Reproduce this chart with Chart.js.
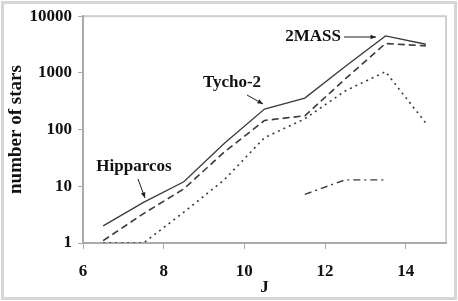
<!DOCTYPE html>
<html><head><meta charset="utf-8">
<script src="https://cdn.jsdelivr.net/npm/chart.js@4"></script>
<style>html,body{margin:0;padding:0;background:#fff}#w{width:458px;height:301px;position:relative}</style>
</head><body><div id="w"><canvas id="c" width="458" height="301"></canvas></div>
<script>
const jValues = [6.5, 7.5, 8.5, 9.5, 10.5, 11.5, 12.5, 13.5, 14.5];
const solidSeries = [2, 5.2, 12, 57, 230, 360, 1300, 4500, 3200];
const dashedSeries = [1.1, 3.3, 9, 40, 145, 175, 780, 3300, 3000];
const dottedSeries = [1, 1, 3.5, 13, 72, 155, 480, 1050, 130];
const dashDotSeries = [null, null, null, null, null, 7.2, 13, 13, null];
const xTicks = [6, 8, 10, 12, 14];
const yTicks = [1, 10, 100, 1000, 10000];
const yTickLabels = ['1', '10', '100', '1000', '10000'];
const labels = [
  {text: '2MASS', tx: 313, ty: 37, ax: 344, ay: 37, bx: 376, by: 37},
  {text: 'Tycho-2', tx: 232, ty: 83, ax: 247, ay: 95, bx: 263, by: 104},
  {text: 'Hipparcos', tx: 134, ty: 167, ax: 138, ay: 179, bx: 145, by: 198}
];
const pts = (arr) => jValues.map((x, i) => ({x, y: arr[i]}));
const col = '#3a3a3a';
const font = "'Liberation Serif', 'Times New Roman', serif";

const framePlugin = {
  id: 'frame',
  beforeDraw(chart) {
    const c = chart.ctx, a = chart.chartArea;
    c.save();
    c.fillStyle = '#fff';
    c.fillRect(0, 0, chart.width, chart.height);
    c.strokeStyle = '#d6d6d6';
    c.lineWidth = 3;
    c.strokeRect(2.5, 2.5, chart.width - 5, chart.height - 5);
    c.strokeStyle = '#cfcfcf';
    c.lineWidth = 2;
    c.strokeRect(a.left, a.top, a.right - a.left, a.bottom - a.top);
    c.restore();
  },
  afterDraw(chart) {
    const c = chart.ctx;
    c.save();
    c.font = "bold 17px " + font;
    c.textAlign = 'center';
    c.textBaseline = 'middle';
    c.strokeStyle = '#222';
    c.lineWidth = 1;
    labels.forEach(l => {
      c.fillStyle = '#111';
      c.fillText(l.text, l.tx, l.ty);
      c.beginPath();
      c.moveTo(l.ax, l.ay);
      c.lineTo(l.bx, l.by);
      c.stroke();
      const ang = Math.atan2(l.by - l.ay, l.bx - l.ax);
      c.beginPath();
      c.moveTo(l.bx, l.by);
      c.lineTo(l.bx - 6 * Math.cos(ang - 0.4), l.by - 6 * Math.sin(ang - 0.4));
      c.lineTo(l.bx - 6 * Math.cos(ang + 0.4), l.by - 6 * Math.sin(ang + 0.4));
      c.closePath();
      c.fillStyle = '#222';
      c.fill();
    });
    c.restore();
  }
};

const ds = (label, data, dash, w) => ({
  label, data: pts(data), borderColor: col, borderWidth: w, borderDash: dash,
  pointRadius: 0, fill: false, tension: 0, spanGaps: false
});

new Chart(document.getElementById('c'), {
  type: 'line',
  data: {
    datasets: [
      ds('total', solidSeries, [], 1.3),
      ds('dashed', dashedSeries, [7, 4], 1.6),
      ds('dotted', dottedSeries, [2, 4], 1.6),
      ds('dash-dot', dashDotSeries, [7, 4, 2, 4], 1.4)
    ]
  },
  options: {
    responsive: false,
    animation: false,
    layout: {padding: {left: 5, right: 12, top: 16, bottom: 3}},
    plugins: {legend: {display: false}, tooltip: {enabled: false}},
    scales: {
      x: {
        type: 'linear', min: 6, max: 15,
        afterBuildTicks: s => { s.ticks = xTicks.map(v => ({value: v})); },
        afterFit: s => { s.height = 55; },
        grid: {drawOnChartArea: false, drawTicks: true, tickLength: 6, color: '#aaa', lineWidth: 1},
        border: {color: '#aaa', width: 2},
        ticks: {color: '#111', font: {family: font, weight: 'bold', size: 17}, padding: 12, maxRotation: 0},
        title: {display: true, text: 'J', color: '#111', font: {family: font, weight: 'bold', size: 17}, padding: {top: 0, bottom: 0}}
      },
      y: {
        type: 'logarithmic', min: 1, max: 10000,
        afterBuildTicks: s => { s.ticks = yTicks.map(v => ({value: v})); },
        afterFit: s => { s.width = 78; },
        grid: {drawOnChartArea: false, drawTicks: true, tickLength: 5, color: '#aaa', lineWidth: 1},
        border: {color: '#aaa', width: 2},
        ticks: {color: '#111', font: {family: font, weight: 'bold', size: 17}, padding: 6,
          callback: (v) => { const i = yTicks.indexOf(v); return i >= 0 ? yTickLabels[i] : ''; }},
        title: {display: true, text: 'number of stars', color: '#111', font: {family: font, weight: 'bold', size: 19}, padding: {top: 0, bottom: 0}}
      }
    }
  },
  plugins: [framePlugin]
});
</script>
</body></html>
